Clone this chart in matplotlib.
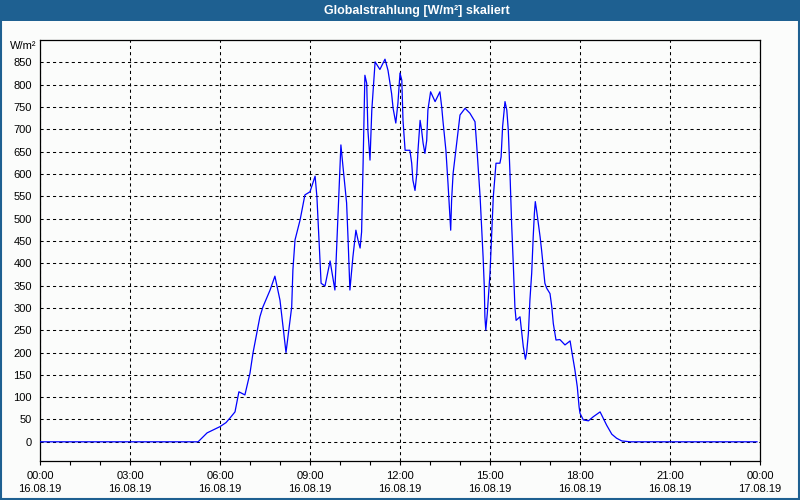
import matplotlib
matplotlib.use('Agg')
import matplotlib.pyplot as plt
from matplotlib.patches import Rectangle
from matplotlib.ticker import MultipleLocator

plt.rcParams['font.family'] = ['Liberation Sans', 'DejaVu Sans']

# Globalstrahlung 16.08.19, time in hours since 00:00, values in W/m²
hours = [0.0, 5.27, 5.57, 6.0, 6.2, 6.33, 6.5, 6.63, 6.83, 7.0, 7.1, 7.33, 7.43,
         7.67, 7.83, 8.0, 8.2, 8.39, 8.43, 8.5, 8.67, 8.83, 9.0, 9.17, 9.23, 9.3,
         9.37, 9.5, 9.67, 9.72, 9.83, 9.89, 10.0, 10.03, 10.1, 10.22, 10.27, 10.33,
         10.43, 10.53, 10.6, 10.67, 10.72, 10.77, 10.83, 10.89, 10.93, 11.0, 11.06,
         11.17, 11.33, 11.5, 11.6, 11.72, 11.77, 11.86, 11.93, 12.0, 12.06, 12.1,
         12.17, 12.33, 12.39, 12.43, 12.5, 12.56, 12.6, 12.67, 12.72, 12.77, 12.83,
         12.89, 12.93, 13.02, 13.17, 13.33, 13.39, 13.43, 13.53, 13.6, 13.67, 13.69,
         13.72, 13.77, 13.89, 14.0, 14.17, 14.33, 14.5, 14.56, 14.67, 14.72, 14.77,
         14.81, 14.83, 14.86, 14.91, 15.0, 15.06, 15.11, 15.17, 15.2, 15.33, 15.37,
         15.42, 15.5, 15.56, 15.61, 15.67, 15.72, 15.78, 15.83, 15.87, 16.0, 16.06,
         16.11, 16.18, 16.22, 16.28, 16.33, 16.39, 16.44, 16.48, 16.51, 16.56, 16.61,
         16.67, 16.72, 16.83, 16.89, 17.0, 17.06, 17.11, 17.2, 17.33, 17.5, 17.67,
         17.72, 17.83, 17.91, 17.97, 18.0, 18.11, 18.28, 18.44, 18.67, 18.78, 18.89,
         19.06, 19.22, 19.39, 19.67, 23.9]
watts = [0, 0, 20, 34, 43, 53, 67, 112, 105, 154, 199, 280, 302,
         340, 371, 317, 200, 302, 385, 452, 497, 553, 560, 595, 549, 452,
         355, 349, 405, 385, 340, 437, 609, 665, 616, 535, 452, 340,
         414, 474, 452, 434, 470, 624, 821, 803, 698, 631, 743,
         851, 834, 857, 832, 780, 747, 714, 758, 826, 810, 720,
         653, 653, 624, 586, 563, 601, 653, 720, 698, 669, 646,
         675, 743, 784, 762, 784, 750, 720, 653, 579, 497, 474,
         541, 601, 669, 732, 747, 736, 717, 661, 549, 482, 414,
         347, 280, 250, 288, 378, 474, 549, 601, 624, 624, 638,
         706, 762, 743, 698, 594, 490, 392, 302, 272, 280, 243,
         213, 185, 199, 243, 317, 378, 459, 512, 538, 515, 490,
         459, 429, 355, 344, 332, 302, 265, 228, 229, 217, 226,
         205, 161, 123, 78, 64, 49, 47, 56, 67, 52, 37,
         17, 8, 2, 0, 0]

x_labels = ['00:00\n16.08.19', '03:00\n16.08.19', '06:00\n16.08.19',
            '09:00\n16.08.19', '12:00\n16.08.19', '15:00\n16.08.19',
            '18:00\n16.08.19', '21:00\n16.08.19', '00:00\n17.08.19']

bg = '#fbfcfb'
bar_blue = '#1e6091'

fig = plt.figure(figsize=(8, 5), dpi=100, facecolor=bg)

# title bar and frame
fig.patches.append(Rectangle((0, 1 - 21/500), 1, 21/500, transform=fig.transFigure,
                             facecolor=bar_blue, edgecolor='none', zorder=0))
fig.patches.append(Rectangle((0.5/800, 1.5/500), 798/800, 497/500, transform=fig.transFigure,
                             facecolor='none', edgecolor=bar_blue, lw=1.5, zorder=0))
fig.text(417/800, 1 - 11/500, 'Globalstrahlung [W/m²] skaliert', color='white',
         fontsize=9, fontweight='bold', ha='center', va='center')

ax = fig.add_axes([40/800, 39/500, 720/800, 421/500])
ax.set_facecolor(bg)
ax.plot(hours, watts, color='#0000ff', lw=0.9, zorder=3)

ax.set_xlim(0, 24)
ax.set_ylim(-43, 900)
ax.set_xticks(range(0, 25, 3))
ax.set_xticklabels(x_labels, linespacing=1.45)
ax.xaxis.set_minor_locator(MultipleLocator(1))
ax.set_yticks(range(0, 851, 50))

ax.tick_params(axis='x', which='both', direction='out', length=3, width=0.8,
               labelsize=8, pad=4, color='black')
ax.tick_params(axis='y', length=0, labelsize=8, pad=6)

ax.grid(True, which='major', color='black', linestyle=(0, (3, 3)), linewidth=0.75)
for s in ax.spines.values():
    s.set_color('black')
    s.set_linewidth(0.9)

fig.text(36/800, 1 - 46/500, 'W/m²', fontsize=8, ha='right', va='center')

fig.savefig('out.png', dpi=100, facecolor=bg)
